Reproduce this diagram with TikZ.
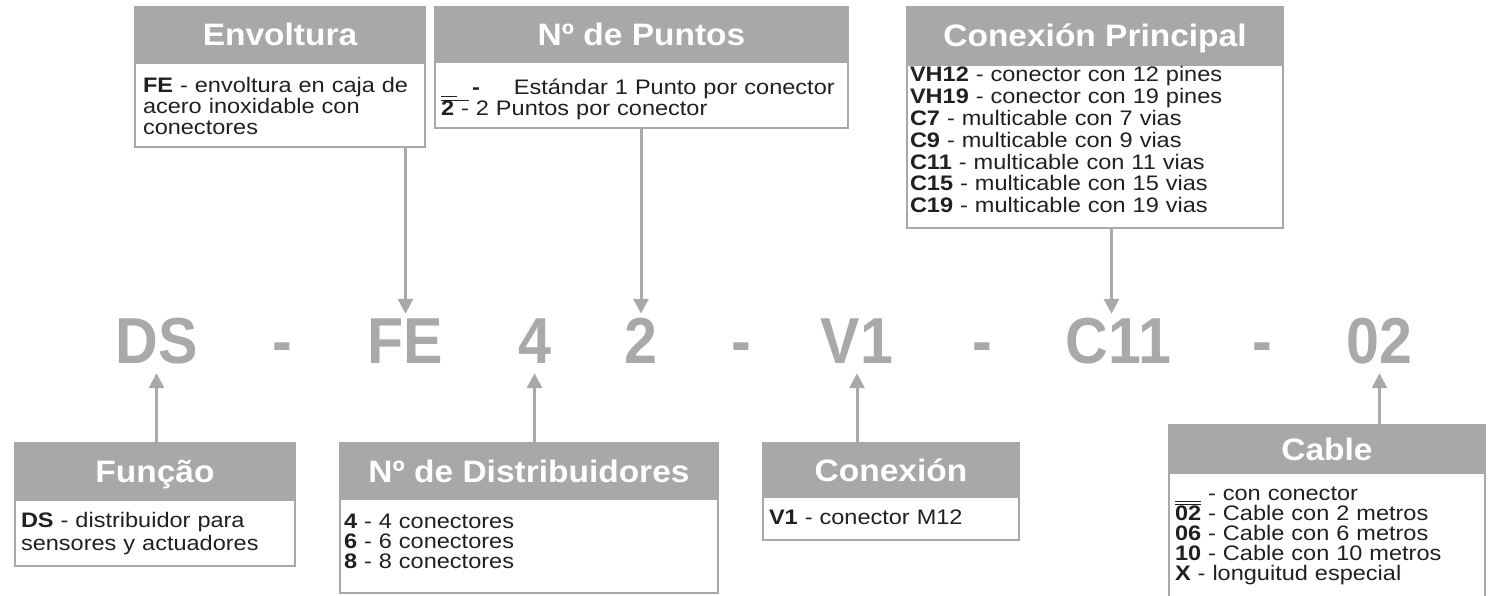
\documentclass[tikz,border=0pt]{standalone}
\usepackage{fontspec}
\setmainfont{Liberation Sans}[FakeStretch=1.12]
\newfontfamily\codefont{Liberation Sans}[FakeStretch=0.91]
\newfontfamily\headfont{Liberation Sans}[FakeStretch=1.08]
\usepackage{tikz}
\usetikzlibrary{arrows.meta, positioning}
\usepackage{xcolor}
\definecolor{boxgray}{RGB}{169,168,166}
\definecolor{codegray}{RGB}{170,169,167}
\definecolor{inkblack}{RGB}{35,31,32}
\newcommand{\blankcode}[1]{\rule[-2pt]{#1}{1.2pt}}
\newcommand{\topbar}[1]{\leavevmode\vbox{\hrule height 1.2pt\hbox{#1}}}

\begin{document}
\begin{tikzpicture}[x=1pt, y=-1pt, >={Triangle[length=15pt,width=15pt]},
  hdr/.style={anchor=north west, fill=boxgray, draw=boxgray, line width=2.5pt,
    outer sep=0pt, inner sep=0pt, text=white, text height=22pt, text depth=0pt,
    font=\headfont\bfseries\fontsize{31}{31}\selectfont},
  body/.style={draw=boxgray, fill=white, line width=2.5pt, outer sep=0pt,
    inner ysep=0pt, align=left, text=inkblack,
    font=\fontsize{21}{21}\selectfont},
  code/.style={anchor=base, text=codegray, inner xsep=0pt, inner ysep=2pt,
    text height=47pt, text depth=8pt,
    font=\codefont\bfseries\fontsize{65}{65}\selectfont},
  arr/.style={->, draw=codegray, line width=3pt}]
  \useasboundingbox (0,0) rectangle (1492,596);

  % Code line
  \node[code] (ds)   at (156.5,363) {DS};
  \node[code] (d1)   at (282,363)   {-};
  \node[code] (fe)   at (405.5,363) {FE};
  \node[code] (four) at (534.5,363) {4};
  \node[code] (two)  at (641,363)   {2};
  \node[code] (d2)   at (741,363)   {-};
  \node[code] (v1)   at (857,363)   {V1};
  \node[code] (d3)   at (982,363)   {-};
  \node[code] (c11)  at (1118.5,363) {C11};
  \node[code] (d4)   at (1262.5,363) {-};
  \node[code] (zt)   at (1379.5,363) {02};

  % Top boxes
  \node[hdr, minimum width=290pt, minimum height=56pt] (envhdr) at (135,7) {Envoltura};
  \node[body, below=0pt of envhdr, text width=274pt, inner xsep=8pt,
        text height=30pt, text depth=54pt] (envtxt)
    {\textbf{FE} - envoltura en caja de\\acero inoxidable con\\conectores};

  \node[hdr, minimum width=413pt, minimum height=55pt] (pnthdr) at (435,7) {Nº de Puntos};
  \node[body, below=0pt of pnthdr, text width=401pt, inner xsep=6pt,
        text height=33pt, text depth=33pt] (pnttxt)
    {\blankcode{16pt}\hspace{15pt}\textbf{-}\hspace{34pt}Estándar 1 Punto por conector\\
     \topbar{\textbf{2} -} 2 Puntos por conector};

  \node[hdr, minimum width=376pt, minimum height=58pt] (prihdr) at (907,7) {Conexión Principal};
  \node[body, below=0pt of prihdr, text width=370pt, inner xsep=3pt,
        text height=17pt, text depth=146pt, font=\fontsize{21}{21.8}\selectfont] (pritxt)
    {\textbf{VH12} - conector con 12 pines\\
     \textbf{VH19} - conector con 19 pines\\
     \textbf{C7} - multicable con 7 vias\\
     \textbf{C9} - multicable con 9 vias\\
     \textbf{C11} - multicable con 11 vias\\
     \textbf{C15} - multicable con 15 vias\\
     \textbf{C19} - multicable con 19 vias};

  % Bottom boxes
  \node[hdr, minimum width=280pt, minimum height=57pt] (funhdr) at (15,443) {Função};
  \node[body, below=0pt of funhdr, text width=268pt, inner xsep=6pt,
        text height=27pt, text depth=39pt, font=\fontsize{21}{23}\selectfont] (funtxt)
    {\textbf{DS} - distribuidor para\\sensores y actuadores};

  \node[hdr, minimum width=378pt, minimum height=56pt] (dishdr) at (340,443) {Nº de Distribuidores};
  \node[body, below=0pt of dishdr, text width=370pt, inner xsep=4pt,
        text height=29pt, text depth=65pt, font=\fontsize{21}{20}\selectfont] (distxt)
    {\textbf{4} - 4 conectores\\\textbf{6} - 6 conectores\\\textbf{8} - 8 conectores};

  \node[hdr, minimum width=256pt, minimum height=54pt] (conhdr) at (763,443) {Conexión};
  \node[body, below=0pt of conhdr, text width=244pt, inner xsep=6pt,
        text height=27pt, text depth=16pt] (contxt)
    {\textbf{V1} - conector M12};

  \node[hdr, minimum width=316pt, minimum height=48pt] (cabhdr) at (1169,425) {Cable};
  \node[body, below=0pt of cabhdr, text width=304pt, inner xsep=6pt,
        text height=27pt, text depth=130pt, font=\fontsize{21}{20}\selectfont] (cabtxt)
    {\blankcode{26pt} - con conector\\
     \topbar{\textbf{02}} - Cable con 2 metros\\
     \textbf{06} - Cable con 6 metros\\
     \textbf{10} - Cable con 10 metros\\
     \textbf{X} - longuitud especial};

  % Arrows
  \coordinate (c11in) at ([xshift=-7pt]c11.north);
  \draw[arr] (envtxt.south -| fe.north) -- (fe.north);
  \draw[arr] (pnttxt.south -| two.north) -- (two.north);
  \draw[arr] (pritxt.south -| c11in) -- (c11in);
  \draw[arr] (funhdr.north -| ds.south) -- (ds.south);
  \draw[arr] (dishdr.north -| four.south) -- (four.south);
  \draw[arr] (conhdr.north -| v1.south) -- (v1.south);
  \draw[arr] (cabhdr.north -| zt.south) -- (zt.south);
\end{tikzpicture}
\end{document}
